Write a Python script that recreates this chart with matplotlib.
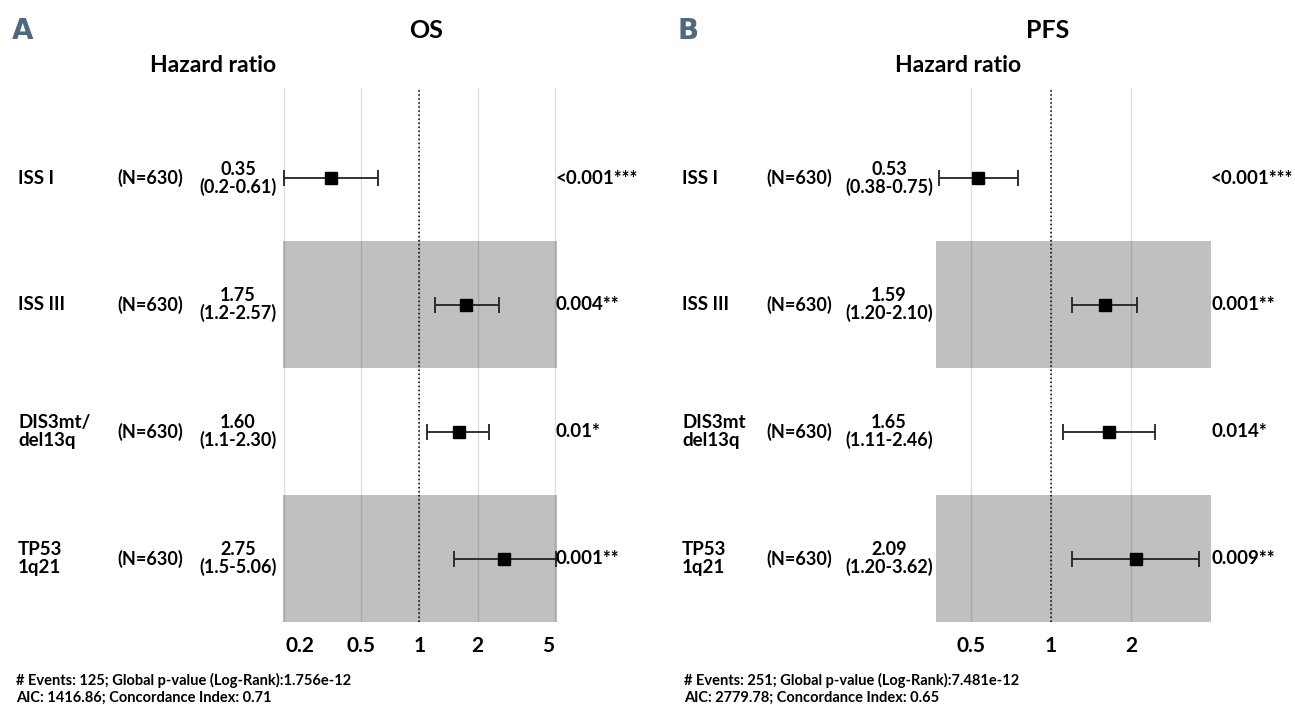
import numpy as np
import matplotlib
matplotlib.use('Agg')
import matplotlib.pyplot as plt
from matplotlib.ticker import NullLocator
from matplotlib.transforms import blended_transform_factory, ScaledTranslation

plt.rcParams['font.family'] = ['Lato', 'DejaVu Sans']

# --- OS data ---
os_labels = ['ISS I', 'ISS III', 'DIS3mt/\ndel13q', 'TP53\n1q21']
os_n = ['(N=630)', '(N=630)', '(N=630)', '(N=630)']
os_hr = [0.35, 1.75, 1.60, 2.75]
os_lo = [0.2, 1.2, 1.1, 1.5]
os_hi = [0.61, 2.57, 2.30, 5.06]
os_est = ['0.35\n(0.2-0.61)', '1.75\n(1.2-2.57)', '1.60\n(1.1-2.30)', '2.75\n(1.5-5.06)']
os_p = ['<0.001***', '0.004**', '0.01*', '0.001**']
os_ticks = [0.2, 0.5, 1, 2, 5]
os_ticklabels = ['0.2', '0.5', '1', '2', '5']
os_note = '# Events: 125; Global p-value (Log-Rank):1.756e-12\nAIC: 1416.86; Concordance Index: 0.71'

# --- PFS data ---
pfs_labels = ['ISS I', 'ISS III', 'DIS3mt\ndel13q', 'TP53\n1q21']
pfs_n = ['(N=630)', '(N=630)', '(N=630)', '(N=630)']
pfs_hr = [0.53, 1.59, 1.65, 2.09]
pfs_lo = [0.38, 1.20, 1.11, 1.20]
pfs_hi = [0.75, 2.10, 2.46, 3.62]
pfs_est = ['0.53\n(0.38-0.75)', '1.59\n(1.20-2.10)', '1.65\n(1.11-2.46)', '2.09\n(1.20-3.62)']
pfs_p = ['<0.001***', '0.001**', '0.014*', '0.009**']
pfs_ticks = [0.5, 1, 2]
pfs_ticklabels = ['0.5', '1', '2']
pfs_note = '# Events: 251; Global p-value (Log-Rank):7.481e-12\nAIC: 2779.78; Concordance Index: 0.65'

W, H = 1295, 705
fig = plt.figure(figsize=(W / 100, H / 100), dpi=100)


def fx(px):
    return px / W


def fy(py):
    return 1 - py / H


def panel(left_px, right_px, xlim, letter, letter_x, title, title_x, hr_x,
          col_lab, col_n, col_est, col_p, labels, n, hr, lo, hi, est, pv,
          ticks, ticklabels, note, note_x, end_shift=None):
    ax = fig.add_axes([fx(left_px), fy(622), fx(right_px - left_px), 534 / H])
    rows = np.arange(len(hr))
    ax.set_xscale('log')
    ax.set_xlim(*xlim)
    ax.set_ylim(3.5, -0.71)
    for r in rows[1::2]:
        ax.axhspan(r - 0.5, r + 0.5, color='#c0c0c0', zorder=0, lw=0)
    ax.set_xticks(ticks)
    ax.set_xticklabels(ticklabels, fontweight='bold')
    ax.xaxis.set_minor_locator(NullLocator())
    ax.set_yticks([])
    ax.grid(axis='x', color='black', alpha=0.12, lw=1)
    ax.tick_params(axis='x', length=0, pad=10, labelsize=15)
    for s in ax.spines.values():
        s.set_visible(False)
    if end_shift is not None:
        # outer tick labels sit a little inside the panel, as in the original
        tl = ax.get_xticklabels()
        for i, dx in zip([0, -1], end_shift):
            tl[i].set_transform(tl[i].get_transform() +
                                ScaledTranslation(dx / 72, 0, fig.dpi_scale_trans))
    ax.axvline(1, color='black', ls=':', lw=1.1, zorder=2)
    hr_a = np.array(hr)
    ax.errorbar(hr_a, rows, xerr=[hr_a - np.array(lo), np.array(hi) - hr_a],
                fmt='s', color='black', ecolor='#222222', ms=9, capsize=6,
                elinewidth=1.3, capthick=1.3, zorder=3)

    tr = blended_transform_factory(fig.transFigure, ax.transData)
    for r in rows:
        ax.text(fx(col_lab), r, labels[r], transform=tr, ha='left', va='center',
                fontsize=13.5, fontweight='bold', linespacing=1.1)
        ax.text(fx(col_n), r, n[r], transform=tr, ha='center', va='center',
                fontsize=13, fontweight='bold')
        ax.text(fx(col_est), r, est[r], transform=tr, ha='center', va='center',
                fontsize=13, fontweight='bold', linespacing=1.0)
        ax.text(fx(col_p), r, pv[r], transform=tr, ha='left', va='center',
                fontsize=13.5, fontweight='bold')

    fig.text(fx(letter_x), fy(31), letter, ha='left', va='center',
             fontsize=20, fontweight='bold', color='#4e6880',
             family=['Liberation Sans Narrow', 'DejaVu Sans'])
    fig.text(fx(title_x), fy(31), title, ha='center', va='center',
             fontsize=18, fontweight='bold')
    fig.text(fx(hr_x), fy(65), 'Hazard ratio', ha='center', va='center',
             fontsize=16.5, fontweight='bold')
    fig.text(fx(note_x), fy(689), note, ha='left', va='center',
             fontsize=10.5, fontweight='bold', linespacing=1.3)
    return ax


panel(283, 557, (0.197, 5.14), 'A', 12, 'OS', 426, 213,
      18, 150, 238, 556, os_labels, os_n, os_hr, os_lo, os_hi, os_est, os_p,
      os_ticks, os_ticklabels, os_note, 16, end_shift=(11, -5))

panel(936, 1211, (0.369, 4.0), 'B', 678, 'PFS', 1048, 958,
      682, 799, 889, 1211, pfs_labels, pfs_n, pfs_hr, pfs_lo, pfs_hi, pfs_est, pfs_p,
      pfs_ticks, pfs_ticklabels, pfs_note, 684)

fig.savefig('out.png', dpi=100)
